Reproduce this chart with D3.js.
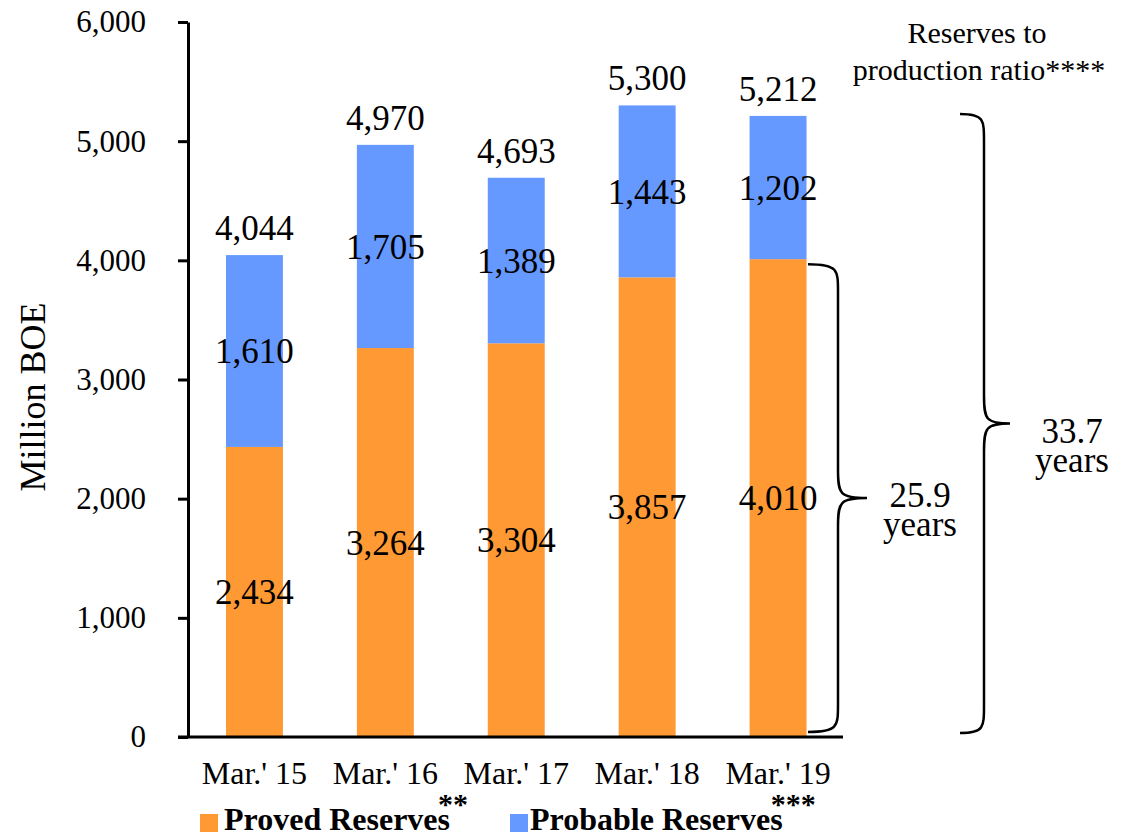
<!DOCTYPE html>
<html><head><meta charset="utf-8">
<script src="https://cdn.jsdelivr.net/npm/d3@7"></script>
<style>body{margin:0;background:#fff}svg{display:block}text{font-family:"Liberation Serif",serif;fill:#000}</style>
</head><body><svg id="c" width="1137" height="838"></svg>
<script>
const categories = ["Mar.' 15","Mar.' 16","Mar.' 17","Mar.' 18","Mar.' 19"];
const proved = [2434, 3264, 3304, 3857, 4010];
const probable = [1610, 1705, 1389, 1443, 1202];
const totals = [4044, 4970, 4693, 5300, 5212];
const yTicks = [0, 1000, 2000, 3000, 4000, 5000, 6000];
const seriesNames = ["Proved Reserves", "Probable Reserves"];
const seriesMarks = ["**", "***"];
const colors = ["#FF9933", "#6699FF"];
const ratioProved = "25.9", ratioTotal = "33.7";

const svg = d3.select("#c");
const y = d3.scaleLinear().domain([0, 6000]).range([737, 22]);
const x = d3.scaleBand().domain(categories).range([189, 843.5]).paddingInner(0.565).paddingOuter(0.2825);
const fmt = d3.format(",");

// bars
const g = svg.append("g");
categories.forEach((c, i) => {
  g.append("rect").attr("x", x(c)).attr("width", x.bandwidth())
    .attr("y", y(proved[i])).attr("height", y(0) - y(proved[i])).attr("fill", colors[0]);
  g.append("rect").attr("x", x(c)).attr("width", x.bandwidth())
    .attr("y", y(proved[i] + probable[i])).attr("height", y(proved[i]) - y(proved[i] + probable[i])).attr("fill", colors[1]);
  const cx = x(c) + x.bandwidth() / 2;
  g.append("text").attr("x", cx).attr("y", y(proved[i] / 2)).attr("dy", "0.35em")
    .attr("text-anchor", "middle").style("font-size", "35px").text(fmt(proved[i]));
  g.append("text").attr("x", cx).attr("y", y(proved[i] + probable[i] / 2)).attr("dy", "0.35em")
    .attr("text-anchor", "middle").style("font-size", "35px").text(fmt(probable[i]));
  g.append("text").attr("x", cx).attr("y", y(totals[i]) - 15)
    .attr("text-anchor", "middle").style("font-size", "35px").text(fmt(totals[i]));
});

// y axis
const ya = svg.append("g").attr("transform", "translate(188,0)")
  .call(d3.axisLeft(y).tickValues(yTicks).tickFormat(fmt).tickSize(10).tickPadding(32).tickSizeOuter(0));
ya.select(".domain").attr("stroke-width", 3);
ya.selectAll(".tick line").attr("stroke-width", 3);
ya.selectAll("text").style("font-size", "31px").style("font-family", "Liberation Serif");

// x axis
const xa = svg.append("g").attr("transform", "translate(0,737)")
  .call(d3.axisBottom(x).tickSize(0).tickPadding(18));
xa.select(".domain").attr("stroke-width", 3).attr("d", "M178,0H843");
xa.selectAll("text").style("font-size", "32px").style("font-family", "Liberation Serif").attr("dy", "0.9em");

// y title
svg.append("text").attr("transform", "translate(45,397) rotate(-90)")
  .attr("text-anchor", "middle").style("font-size", "36px").text("Million BOE");

// legend
const leg = [{x: 200, tx: 224}, {x: 510, tx: 530}];
seriesNames.forEach((n, i) => {
  svg.append("rect").attr("x", leg[i].x).attr("y", 814).attr("width", 18).attr("height", 18).attr("fill", colors[i]);
  const t = svg.append("text").attr("x", leg[i].tx).attr("y", 830)
    .style("font-size", "32px").style("font-weight", "bold");
  t.append("tspan").text(n);
  t.append("tspan").attr("dy", -16).attr("dx", -12).style("font-size", "30px").text(seriesMarks[i]);
});

// braces
function brace(xEnd, xMid, xTip, y0, y1) {
  const ym = (y0 + y1) / 2, r = 28;
  return `M${xEnd},${y0} C${xMid},${y0} ${xMid},${y0 + r * 0.2} ${xMid},${y0 + r}` +
    ` L${xMid},${ym - r}` +
    ` C${xMid},${ym - 4} ${xMid + 2},${ym} ${xTip},${ym}` +
    ` C${xMid + 2},${ym} ${xMid},${ym + 4} ${xMid},${ym + r}` +
    ` L${xMid},${y1 - r} C${xMid},${y1 - r * 0.2} ${xMid},${y1} ${xEnd},${y1}`;
}
svg.append("path").attr("d", brace(808, 838, 867, y(proved[4]) + 5, y(0) - 5))
  .attr("fill", "none").attr("stroke", "#000").attr("stroke-width", 2.5);
svg.append("path").attr("d", brace(960, 984, 1010, y(totals[4]) - 2, y(0) - 4))
  .attr("fill", "none").attr("stroke", "#000").attr("stroke-width", 2.5);

function ratioLabel(cx, base, v) {
  svg.append("text").attr("x", cx).attr("y", base).attr("text-anchor", "middle").style("font-size", "35px").text(v);
  svg.append("text").attr("x", cx).attr("y", base + 29).attr("text-anchor", "middle").style("font-size", "35px").text("years");
}
ratioLabel(920, 507, ratioProved);
ratioLabel(1072, 443, ratioTotal);

svg.append("text").attr("x", 977).attr("y", 43).attr("text-anchor", "middle").style("font-size", "30px").text("Reserves to");
svg.append("text").attr("x", 979).attr("y", 80).attr("text-anchor", "middle").style("font-size", "30px").text("production ratio****");
</script></body></html>
